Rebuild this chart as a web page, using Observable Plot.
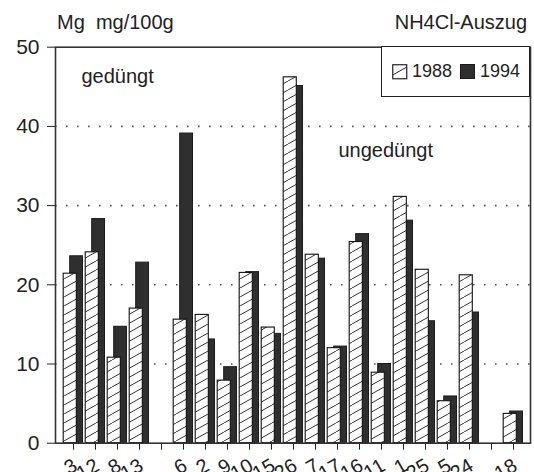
<!DOCTYPE html>
<html><head><meta charset="utf-8">
<script src="https://cdn.jsdelivr.net/npm/d3@7"></script>
<script src="https://cdn.jsdelivr.net/npm/@observablehq/plot@0.6"></script>
<style>
html,body{margin:0;padding:0;background:#fff;overflow:hidden}
#wrap{position:relative;width:534px;height:472px;font-family:"Liberation Sans",Arial,sans-serif;color:#222;overflow:hidden}
#head{position:relative;height:36px}
.ttl{position:absolute;top:12px;font-size:20px;line-height:20px;white-space:pre}
#legend{position:absolute;left:381px;top:46px;width:149px;height:51px;border:1.5px solid #222;background:#fff;box-sizing:border-box}
#legend span{position:absolute;top:15px;font-size:18px;line-height:18px}
#legend svg{position:absolute}
</style>
</head><body>
<div id="wrap">
  <div id="head">
    <div class="ttl" style="left:57px">Mg  mg/100g</div>
    <div class="ttl" style="right:7px">NH4Cl-Auszug</div>
  </div>
  <div id="chart"></div>
  <div id="legend">
    <svg style="left:10px;top:17px" width="16" height="16"><rect x="0.75" y="0.75" width="14" height="14" fill="#fff" stroke="#222" stroke-width="1.2"/><path d="M0.75,11 L14.75,3" stroke="#222" stroke-width="1"/></svg>
    <span style="left:30px">1988</span>
    <svg style="left:78px;top:17px" width="16" height="16"><rect x="0.5" y="0.5" width="14" height="14" fill="#2f2f2f" stroke="#1a1a1a"/></svg>
    <span style="left:98px">1994</span>
  </div>
</div>
<script>
// ---- data ----
const labels = ["3","12","8","13","","6","2","9","10","15","26","7","17","16","11","1","25","5","24","","18"];
const v1988  = [21.4,24.1,10.8,17.0,null,15.6,16.2,7.9,21.5,14.6,46.2,23.8,12.0,25.4,8.9,31.1,21.9,5.3,21.2,null,3.7];
const v1994  = [23.6,28.3,14.7,22.8,null,39.1,13.1,9.6,21.6,13.8,45.1,23.3,12.2,26.4,10.0,28.1,15.4,5.9,16.5,null,4.0];
const gridValues = [10,20,30,40];
const noteText = ["gedüngt", "ungedüngt"];
const noteSlot = [0, 12];
const noteY = [46.35, 36.9];

const keys = labels.map((d, i) => "s" + i);
const rows = labels.map((d, i) => ({key: keys[i], label: d, v88: v1988[i], v94: v1994[i]}));
const note = i => [{key: keys[noteSlot[i]], y: noteY[i], text: noteText[i]}];

const svg = Plot.plot({
  width: 534,
  height: 436,
  marginTop: 10.7,
  marginBottom: 29.3,
  marginLeft: 55,
  marginRight: 4,
  style: {fontFamily: '"Liberation Sans", Arial, sans-serif', fontSize: "21px", color: "#222", background: "transparent", overflow: "visible"},
  x: {type: "band", domain: keys, paddingInner: 0, paddingOuter: 0.08, tickFormat: () => "", tickSize: 7, label: null},
  y: {domain: [0, 50], ticks: 5, tickSize: 8, tickPadding: 8, label: null},
  marks: [
    Plot.ruleY(gridValues, {stroke: "#555", strokeWidth: 1.6, strokeDasharray: "1.6,9.4"}),
    Plot.barY(rows, {x: "key", y: "v94", fill: "#2f2f2f", stroke: "#1a1a1a", strokeWidth: 1, insetLeft: 7.7, insetRight: 1.5}),
    Plot.barY(rows, {x: "key", y: "v88", fill: "url(#hatch)", stroke: "#111", strokeWidth: 1.1, insetLeft: 1.2, insetRight: 7.7}),
    Plot.frame({stroke: "#333", strokeWidth: 1.6}),
    Plot.text(note(0), {x: "key", y: "y", text: "text", dx: 8, textAnchor: "start", fontSize: 20, fill: "#222"}),
    Plot.text(note(1), {x: "key", y: "y", text: "text", dx: 1, textAnchor: "start", fontSize: 20, fill: "#222"}),
    Plot.text(rows, {x: "key", text: "label", frameAnchor: "bottom", textAnchor: "end", lineAnchor: "top", rotate: -30, dx: -2, dy: 14, fontSize: 20, fill: "#222"})
  ]
});

const ns = "http://www.w3.org/2000/svg";
const defs = document.createElementNS(ns, "defs");
defs.innerHTML = '<pattern id="hatch" patternUnits="userSpaceOnUse" width="16" height="9">' +
  '<rect width="16" height="9" fill="#fff"/>' +
  '<path d="M-1,9.56 L17,-0.56" stroke="#333" stroke-width="1"/></pattern>';
svg.insertBefore(defs, svg.firstChild);
document.getElementById("chart").appendChild(svg);
</script>
</body></html>
